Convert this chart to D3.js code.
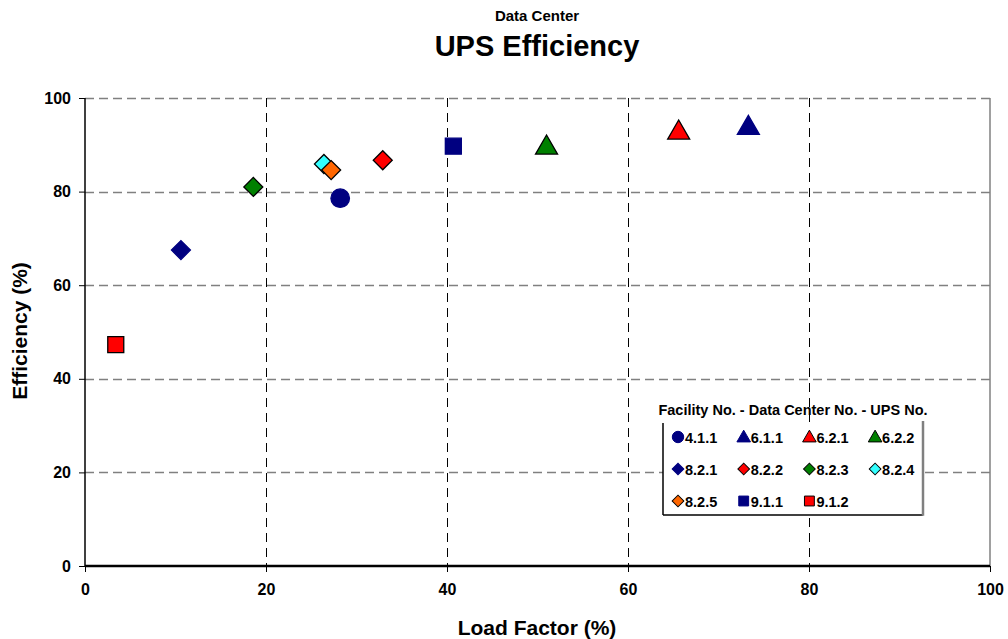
<!DOCTYPE html>
<html>
<head>
<meta charset="utf-8">
<script src="https://cdn.jsdelivr.net/npm/d3@7"></script>
<style>
  body { margin: 0; background: #fff; }
  text { font-family: "Liberation Sans", Arial, sans-serif; font-weight: bold; fill: #000; }
</style>
</head>
<body>
<div id="chart"></div>
<script>
// Data
const upsIds = ["4.1.1", "6.1.1", "6.2.1", "6.2.2", "8.2.1", "8.2.2", "8.2.3", "8.2.4", "8.2.5", "9.1.1", "9.1.2"];
const loadFactor = [28.2, 73.3, 65.6, 51.0, 10.6, 32.9, 18.6, 26.4, 27.2, 40.7, 3.4];
const efficiency = [78.6, 94.0, 93.0, 89.8, 67.5, 86.7, 81.0, 85.9, 84.6, 89.7, 47.3];
const shapes = ["circle", "triangle", "triangle", "triangle", "diamond", "diamond", "diamond", "diamond", "diamond", "square", "square"];
const fills = ["#000080", "#000080", "#ff0000", "#008000", "#000080", "#ff0000", "#008000", "#33ffff", "#ff6600", "#000080", "#ff0000"];
const xTicks = [0, 20, 40, 60, 80, 100];
const yTicks = [0, 20, 40, 60, 80, 100];

const width = 1008, height = 639;
const margin = { top: 98, right: 18, bottom: 73, left: 85 };
const innerW = width - margin.left - margin.right;
const innerH = height - margin.top - margin.bottom;

const svg = d3.select("#chart").append("svg")
  .attr("width", width).attr("height", height);

const g = svg.append("g")
  .attr("transform", `translate(${margin.left},${margin.top})`);

const x = d3.scaleLinear().domain([0, 100]).range([0, innerW]);
const y = d3.scaleLinear().domain([0, 100]).range([innerH, 0]);

// gridlines (gray horizontal, black vertical, both dashed)
g.selectAll(".hgrid").data(yTicks.filter(d => d > 0)).join("line")
  .attr("x1", 0).attr("x2", innerW)
  .attr("y1", d => Math.round(y(d)) + 0.5).attr("y2", d => Math.round(y(d)) + 0.5)
  .attr("stroke", "#808080").attr("stroke-width", 1.5)
  .attr("stroke-dasharray", "9,5");

g.selectAll(".vgrid").data(xTicks.filter(d => d > 0 && d < 100)).join("line")
  .attr("x1", d => Math.round(x(d)) + 0.5).attr("x2", d => Math.round(x(d)) + 0.5)
  .attr("y1", 0).attr("y2", innerH)
  .attr("stroke", "#000").attr("stroke-width", 1)
  .attr("stroke-dasharray", "9,6");

// right border
g.append("line")
  .attr("x1", innerW).attr("x2", innerW).attr("y1", 0).attr("y2", innerH)
  .attr("stroke", "#808080").attr("stroke-width", 1.5);

// axes
const yAxis = g.append("g")
  .call(d3.axisLeft(y).tickValues(yTicks).tickSize(6).tickPadding(8));
yAxis.select(".domain").attr("stroke-width", 1.5).attr("d", `M0,0V${innerH}`);
yAxis.selectAll("text").style("font-size", "16px").style("font-family", "Liberation Sans, Arial").style("font-weight", "bold");

const xAxis = g.append("g")
  .attr("transform", `translate(0,${innerH})`)
  .call(d3.axisBottom(x).tickValues(xTicks).tickSize(6).tickPadding(12));
xAxis.select(".domain").attr("stroke-width", 2.5).attr("d", `M0,0H${innerW}`);
xAxis.selectAll("text").style("font-size", "16px").style("font-family", "Liberation Sans, Arial").style("font-weight", "bold");

// marker symbols
const symType = { circle: d3.symbolCircle, triangle: d3.symbolTriangle, diamond: d3.symbolSquare, square: d3.symbolSquare };
const symSize = { circle: 270, triangle: 210, diamond: 180, square: 256 };
const symbolPath = (shape, scale) => d3.symbol().type(symType[shape]).size(symSize[shape] * scale)();

const data = upsIds.map((id, i) => ({ id, lf: loadFactor[i], eff: efficiency[i], shape: shapes[i], fill: fills[i] }));

g.selectAll(".pt").data(data).join("path")
  .attr("class", "pt")
  .attr("d", d => symbolPath(d.shape, 1))
  .attr("transform", d => `translate(${x(d.lf)},${y(d.eff)})` + (d.shape === "diamond" ? " rotate(45)" : "") + (d.shape === "triangle" ? " translate(0,2)" : ""))
  .attr("fill", d => d.fill)
  .attr("stroke", d => d.fill === "#000080" ? "#000080" : "#000")
  .attr("stroke-width", 1.3);

// titles
svg.append("text").attr("x", 537).attr("y", 21).attr("text-anchor", "middle")
  .style("font-size", "15px").text("Data Center");
svg.append("text").attr("x", 537).attr("y", 56).attr("text-anchor", "middle")
  .style("font-size", "29px").text("UPS Efficiency");
svg.append("text").attr("x", 537).attr("y", 635).attr("text-anchor", "middle")
  .style("font-size", "21px").text("Load Factor (%)");
svg.append("text").attr("transform", "translate(27,331) rotate(-90)").attr("text-anchor", "middle")
  .style("font-size", "21px").text("Efficiency (%)");

// legend
const legend = svg.append("g").attr("transform", "translate(663,423)");
const lw = 260, lh = 92;
legend.append("rect").attr("width", lw).attr("height", lh).attr("fill", "#fff");
legend.append("line").attr("x1", 0).attr("x2", 0).attr("y1", 0).attr("y2", lh).attr("stroke", "#000").attr("stroke-width", 1.5);
legend.append("line").attr("x1", 0).attr("x2", lw).attr("y1", lh).attr("y2", lh).attr("stroke", "#000").attr("stroke-width", 1.5);
legend.append("line").attr("x1", lw).attr("x2", lw).attr("y1", -2).attr("y2", lh + 0.75).attr("stroke", "#808080").attr("stroke-width", 2.5);
svg.append("text").attr("x", 793).attr("y", 415).attr("text-anchor", "middle")
  .style("font-size", "14.5px").text("Facility No. - Data Center No. - UPS No.");

const items = legend.selectAll(".item").data(data).join("g")
  .attr("transform", (d, i) => `translate(${15 + (i % 4) * 65.7},${14 + Math.floor(i / 4) * 32})`);
items.append("path")
  .attr("d", d => symbolPath(d.shape, 0.38))
  .attr("transform", d => (d.shape === "diamond" ? "rotate(45)" : "") + (d.shape === "triangle" ? " translate(0,1)" : ""))
  .attr("fill", d => d.fill)
  .attr("stroke", d => d.fill === "#000080" ? "#000080" : "#000")
  .attr("stroke-width", 1);
items.append("text").attr("x", 7).attr("y", 5.5)
  .style("font-size", "14.5px").text(d => d.id);
</script>
</body>
</html>
